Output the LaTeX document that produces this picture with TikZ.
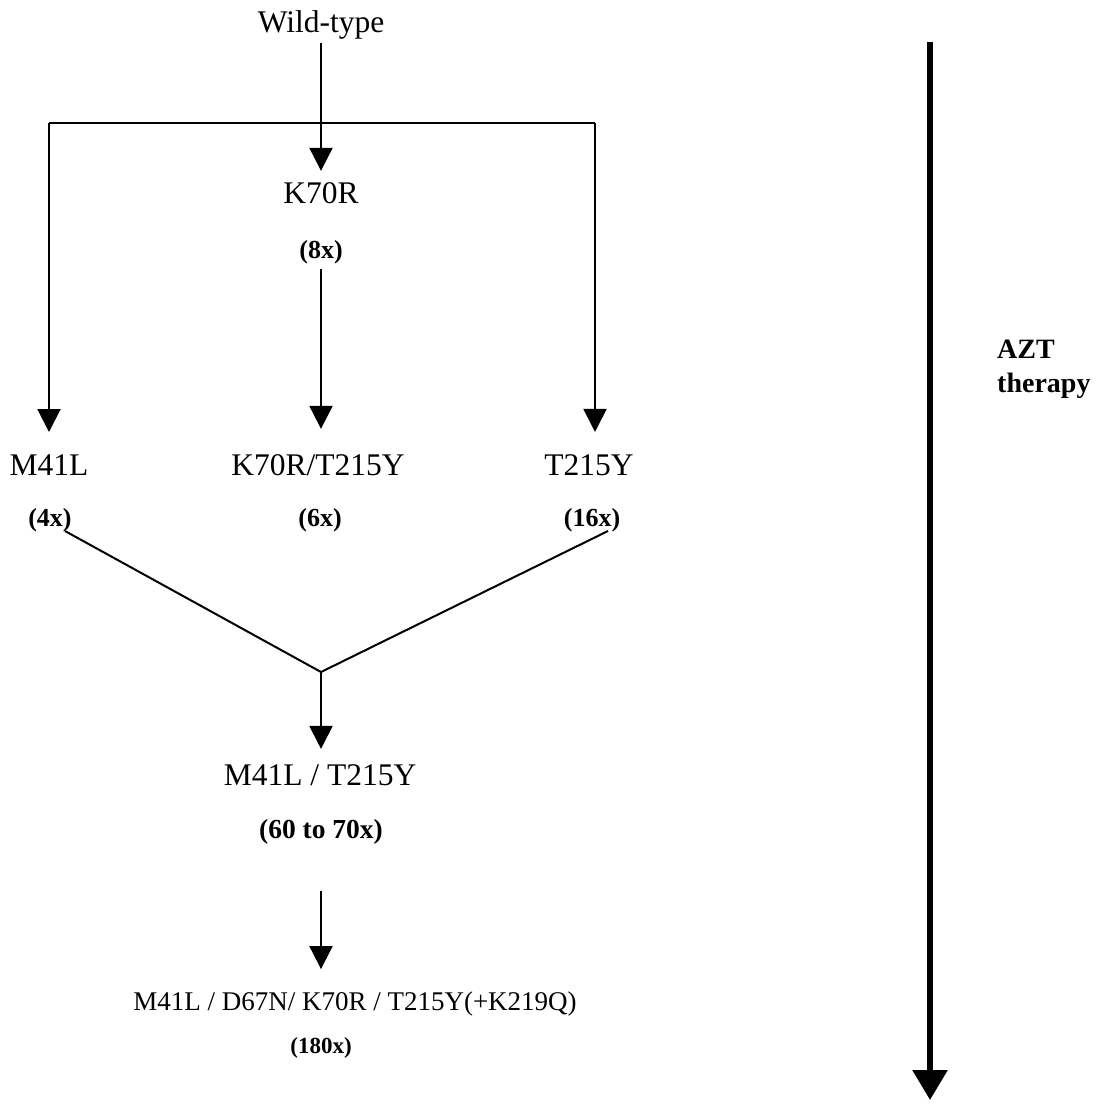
\documentclass[tikz,border=0pt]{standalone}
\usepackage{fontspec}
\setmainfont{Liberation Serif}
\usetikzlibrary{arrows.meta,calc}
\begin{document}
\begin{tikzpicture}[x=1pt,y=-1pt,
  lab/.style={inner sep=0pt, font=\fontsize{31.5}{36}\selectfont, anchor=base},
  longlab/.style={inner sep=0pt, font=\fontsize{27}{33}\selectfont, anchor=base},
  sm/.style={inner sep=0pt, font=\bfseries\fontsize{26}{30}\selectfont, anchor=base},
  side/.style={inner sep=0pt, font=\bfseries\fontsize{28}{34}\selectfont, anchor=base west},
  ln/.style={line width=2pt},
  arr/.style={line width=2pt, -{Triangle[width=23pt,length=23pt]}},
  bigarr/.style={line width=6pt, -{Triangle[width=34pt,length=30pt]}}]
\path[use as bounding box] (0,0) rectangle (1095,1108);
% nodes
\node[lab] (wt) at (321,33) {Wild-type};
\node[lab] (k70) at (321,203) {K70R};
\node[sm] (x8) at (321,258) {(8x)};
\node[lab] (m41) at (49,475) {M41L};
\node[lab] (k70t) at (318,475) {K70R/T215Y};
\node[lab] (t215) at (589,475) {T215Y};
\node[sm] (x4) at (50,526) {(4x)};
\node[sm] (x6) at (320,526) {(6x)};
\node[sm] (x16) at (592,526) {(16x)};
\node[lab] (m41t) at (320,785) {M41L / T215Y};
\node[sm, font=\bfseries\fontsize{27.5}{32}\selectfont] (x6070) at (321,838) {(60 to 70x)};
\node[longlab] (long) at (355,1010) {M41L / D67N/ K70R / T215Y(+K219Q)};
\node[sm, font=\bfseries\fontsize{23}{28}\selectfont] (x180) at (321,1053) {(180x)};
\node[side] (azt) at (997,358) {AZT};
\node[side] (ther) at (997,392) {therapy};
% junctions
\coordinate (jl) at (49,123);
\coordinate (jr) at (595,123);
\coordinate (apex) at (321,672);
\coordinate (vl) at (65,531);
\coordinate (vr) at (608,531);
\coordinate (ttop) at (930,42);
\coordinate (tbot) at (930,1100);
% connectors
\draw[arr, shorten <=3pt, shorten >=11pt] (wt.south) -- (k70.north);
\draw[ln] (jl) -- (jr);
\draw[arr, shorten >=22pt] (jl) -- (jl |- m41.north);
\draw[arr, shorten >=22pt] (jr) -- (jr |- t215.north);
\draw[arr, shorten <=5pt, shorten >=25pt] (x8.south) -- (x8.south |- k70t.north);
\draw[ln] (vl) -- (apex) -- (vr);
\draw[arr, shorten >=15pt] (apex) -- (apex |- m41t.north);
\draw[arr, shorten <=47pt, shorten >=22pt] (x6070.south) -- (x6070.south |- long.north);
\draw[bigarr] (ttop) -- (tbot);
\end{tikzpicture}
\end{document}
